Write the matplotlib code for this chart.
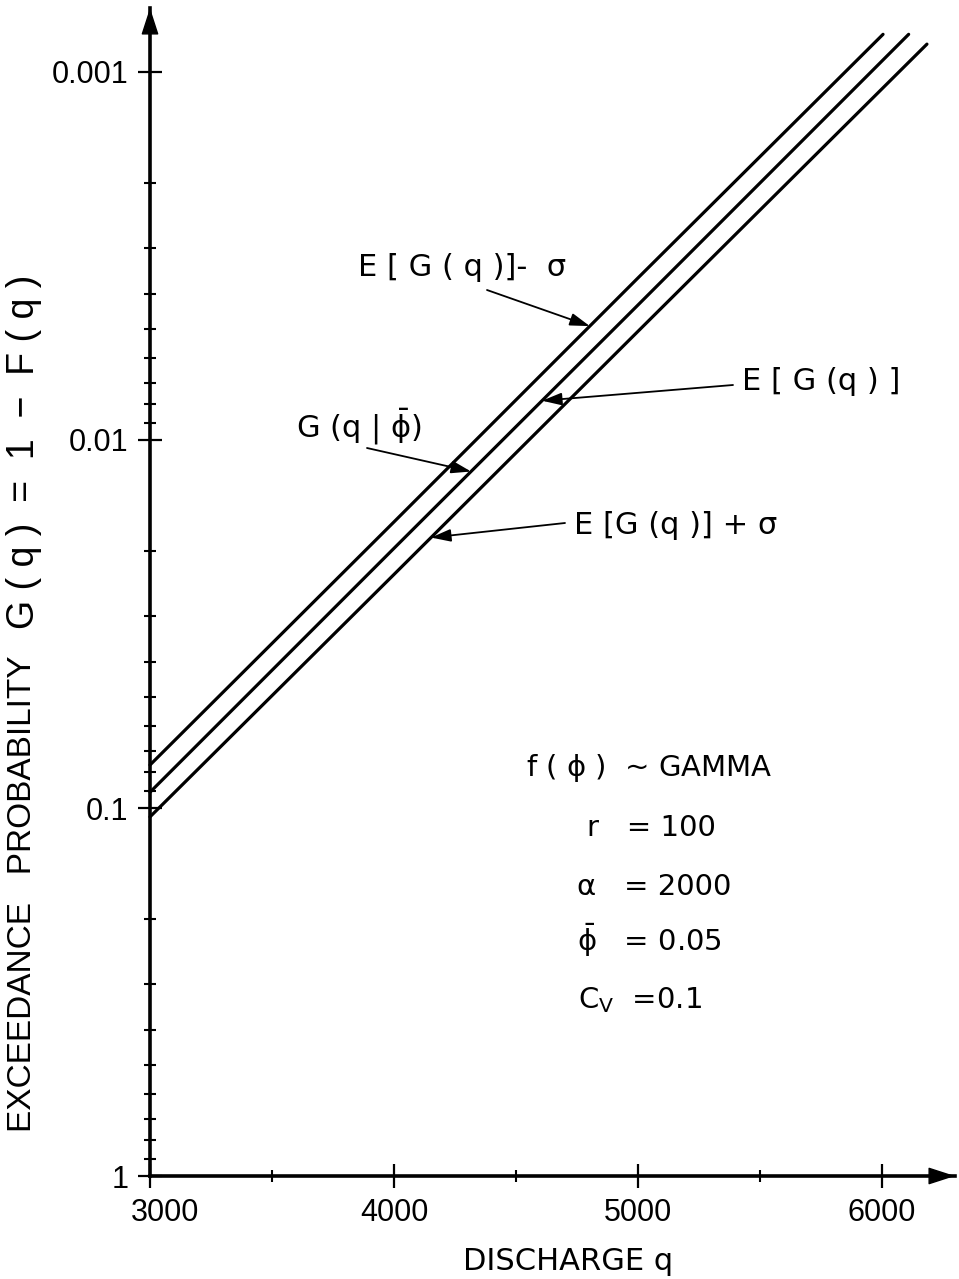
import numpy as np
import matplotlib
matplotlib.use("Agg")
import matplotlib.pyplot as plt
from matplotlib.transforms import ScaledTranslation

# ---- data -------------------------------------------------------------
# Exceedance probability curves G(q) = 1 - F(q) versus discharge q
q_minus = [3000, 4000, 5000, 6005]          # E[G(q)] - sigma
g_minus = [0.0764, 0.0167, 0.00363, 0.00079]

q_mean = [3000, 4000, 5000, 6110]           # E[G(q)]  (~ G(q | phi-bar))
g_mean = [0.0906, 0.0197, 0.00430, 0.00079]

q_plus = [3000, 4000, 5000, 6185]           # E[G(q)] + sigma
g_plus = [0.1057, 0.0232, 0.00507, 0.00084]

x_major = [3000, 4000, 5000, 6000]
x_minor = [3500, 4500, 5500]
y_major = [0.001, 0.01, 0.1, 1]
y_major_labels = ["0.001", "0.01", "0.1", "1"]
y_minor = [m * d for d in (0.001, 0.01, 0.1) for m in range(2, 10)]

# ---- figure -----------------------------------------------------------
W, H = 959, 1279
plt.rcParams["font.family"] = ["DejaVu Sans"]
plt.rcParams["mathtext.fontset"] = "custom"
plt.rcParams["mathtext.rm"] = "DejaVu Sans"
plt.rcParams["mathtext.it"] = "DejaVu Sans"
plt.rcParams["mathtext.bf"] = "DejaVu Sans:bold"

fig = plt.figure(figsize=(W / 100, H / 100), dpi=100)


def fx(px):
    return px / W


def fy(py):
    return 1 - py / H


# axes box in pixels: left 150, right 955, top 8, bottom 1176
ax = fig.add_axes([fx(150), fy(1176), (955 - 150) / W, (1176 - 8) / H])
ax.set_yscale("log")
ax.set_xlim(3000, 6300)
ax.set_ylim(1, 10 ** (-3 - 64 / 368))   # inverted: 1 at the bottom

for s in ("top", "right"):
    ax.spines[s].set_visible(False)
for s in ("left", "bottom"):
    ax.spines[s].set_linewidth(2.6)

ax.set_xticks(x_major)
ax.set_xticks(x_minor, minor=True)
ax.set_xticklabels([str(v) for v in x_major])
ax.set_yticks(y_major)
ax.set_yticks(y_minor, minor=True)
ax.set_yticklabels(y_major_labels)
ax.yaxis.set_minor_formatter(matplotlib.ticker.NullFormatter())

ax.tick_params(which="major", direction="inout", length=17, width=1.6,
               labelsize=22, pad=7)
ax.tick_params(which="minor", direction="inout", length=9, width=1.5)
for lab in ax.get_xticklabels() + ax.get_yticklabels():
    lab.set_fontfamily("Liberation Sans")
# first discharge label sits a little right of its tick
first = ax.get_xticklabels()[0]
first.set_transform(first.get_transform()
                    + ScaledTranslation(15 / 100, 0, fig.dpi_scale_trans))

# arrowheads at the ends of both axes
head = "-|>,head_length=1.7,head_width=0.55"
ax.annotate("", xy=(0, 1), xytext=(0, 0.95), xycoords="axes fraction",
            arrowprops=dict(arrowstyle=head, mutation_scale=10, lw=1.0,
                            color="k", shrinkA=0, shrinkB=0),
            annotation_clip=False)
ax.annotate("", xy=(1, 0), xytext=(0.95, 0), xycoords="axes fraction",
            arrowprops=dict(arrowstyle=head, mutation_scale=10, lw=1.0,
                            color="k", shrinkA=0, shrinkB=0),
            annotation_clip=False)

# curves
for q, g in ((q_minus, g_minus), (q_mean, g_mean), (q_plus, g_plus)):
    ax.plot(q, g, color="k", lw=2.3, solid_capstyle="round", clip_on=False)


def on_curve(q, g, qt):
    return qt, 10 ** np.interp(qt, q, np.log10(g))


# curve labels with leader arrows
lab_fs = 22
leader = dict(arrowstyle="-|>,head_length=1.2,head_width=0.38",
              mutation_scale=10, lw=1.3, color="k", shrinkA=0, shrinkB=0)

fig.text(fx(358), fy(268), "E [ G ( q )]-  σ", fontsize=lab_fs,
         ha="left", va="center")
ax.annotate("", xy=on_curve(q_minus, g_minus, 4803),
            xytext=(fx(487), fy(290)), textcoords="figure fraction",
            arrowprops=leader)

fig.text(fx(742), fy(381), "E [ G (q ) ]", fontsize=lab_fs,
         ha="left", va="center")
ax.annotate("", xy=on_curve(q_mean, g_mean, 4607),
            xytext=(fx(733), fy(385)), textcoords="figure fraction",
            arrowprops=leader)

fig.text(fx(296), fy(427), r"G (q | $\bar{\phi}$)", fontsize=lab_fs,
         ha="left", va="center")
ax.annotate("", xy=on_curve(q_mean, g_mean, 4316),
            xytext=(fx(367), fy(448)), textcoords="figure fraction",
            arrowprops=leader)

fig.text(fx(574), fy(525), "E [G (q )] + σ", fontsize=lab_fs,
         ha="left", va="center")
ax.annotate("", xy=on_curve(q_plus, g_plus, 4152),
            xytext=(fx(565), fy(523)), textcoords="figure fraction",
            arrowprops=leader)

# parameter block
blk_fs = 21
fig.text(fx(649), fy(768), r"f ( $\phi$ )  ~ GAMMA", fontsize=blk_fs,
         ha="center", va="center")
fig.text(fx(587), fy(828), "r   = 100", fontsize=blk_fs, ha="left",
         va="center")
fig.text(fx(577), fy(887), "α   = 2000", fontsize=blk_fs, ha="left",
         va="center")
fig.text(fx(577), fy(940), r"$\bar{\phi}$   = 0.05", fontsize=blk_fs,
         ha="left", va="center")
fig.text(fx(578), fy(1000), r"C$_{V}$  =0.1", fontsize=blk_fs, ha="left",
         va="center")

# axis titles
fig.text(fx(568), fy(1261), "DISCHARGE q", fontsize=22, ha="center",
         va="center")
fig.text(fx(23), fy(894), "EXCEEDANCE   PROBABILITY", fontsize=24,
         rotation=90, ha="center", va="center", fontfamily="Liberation Sans")
fig.text(fx(24), fy(452), "G ( q )  =  1  −  F ( q )", fontsize=27,
         rotation=90, ha="center", va="center", fontfamily="Liberation Sans")

fig.savefig("out.png", dpi=100, facecolor="white")
